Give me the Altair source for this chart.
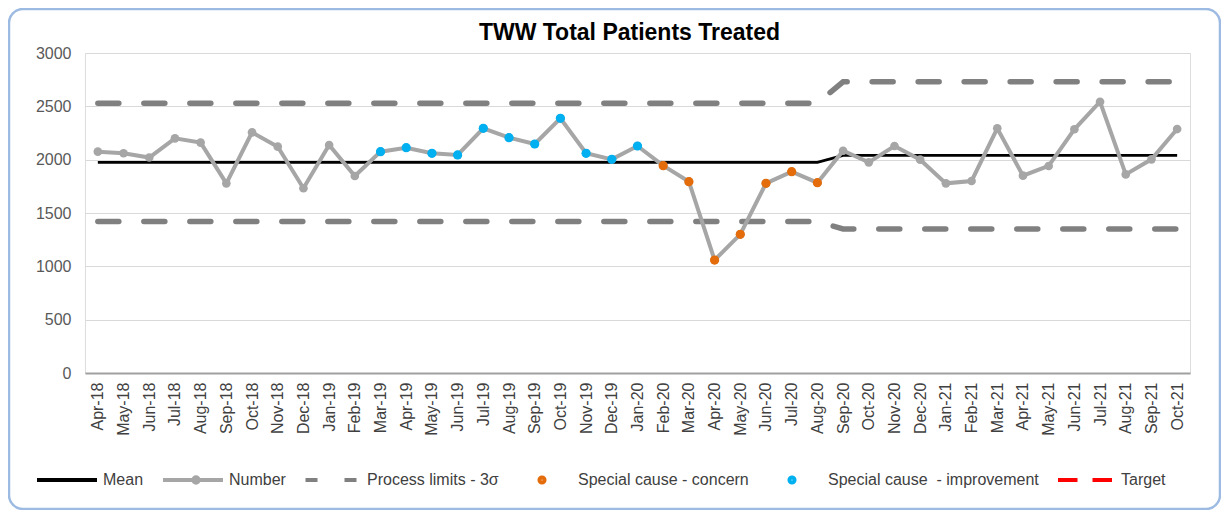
import altair as alt
import pandas as pd

months = ["Apr-18", "May-18", "Jun-18", "Jul-18", "Aug-18", "Sep-18", "Oct-18", "Nov-18", "Dec-18",
          "Jan-19", "Feb-19", "Mar-19", "Apr-19", "May-19", "Jun-19", "Jul-19", "Aug-19", "Sep-19",
          "Oct-19", "Nov-19", "Dec-19", "Jan-20", "Feb-20", "Mar-20", "Apr-20", "May-20", "Jun-20",
          "Jul-20", "Aug-20", "Sep-20", "Oct-20", "Nov-20", "Dec-20", "Jan-21", "Feb-21", "Mar-21",
          "Apr-21", "May-21", "Jun-21", "Jul-21", "Aug-21", "Sep-21", "Oct-21"]

number = [2075, 2060, 2020, 2200, 2160, 1778, 2256, 2122, 1732,
          2137, 1847, 2075, 2112, 2060, 2044, 2294, 2206, 2147,
          2388, 2060, 2003, 2128, 1944, 1794, 1059, 1300, 1778,
          1887, 1784, 2084, 1975, 2128, 2000, 1778, 1800, 2294,
          1850, 1941, 2285, 2543, 1862, 2003, 2287]

mean = [1975, 1975, 1975, 1975, 1975, 1975, 1975, 1975, 1975,
        1975, 1975, 1975, 1975, 1975, 1975, 1975, 1975, 1975,
        1975, 1975, 1975, 1975, 1975, 1975, 1975, 1975, 1975,
        1975, 1975, 2040, 2040, 2040, 2040, 2040, 2040, 2040,
        2040, 2040, 2040, 2040, 2040, 2040, 2040]

upper = [2530, 2530, 2530, 2530, 2530, 2530, 2530, 2530, 2530,
         2530, 2530, 2530, 2530, 2530, 2530, 2530, 2530, 2530,
         2530, 2530, 2530, 2530, 2530, 2530, 2530, 2530, 2530,
         2530, 2530, 2730, 2730, 2730, 2730, 2730, 2730, 2730,
         2730, 2730, 2730, 2730, 2730, 2730, 2730]

lower = [1420, 1420, 1420, 1420, 1420, 1420, 1420, 1420, 1420,
         1420, 1420, 1420, 1420, 1420, 1420, 1420, 1420, 1420,
         1420, 1420, 1420, 1420, 1420, 1420, 1420, 1420, 1420,
         1420, 1420, 1350, 1350, 1350, 1350, 1350, 1350, 1350,
         1350, 1350, 1350, 1350, 1350, 1350, 1350]

status = ["normal", "normal", "normal", "normal", "normal", "normal", "normal", "normal", "normal",
          "normal", "normal", "improvement", "improvement", "improvement", "improvement",
          "improvement", "improvement", "improvement", "improvement", "improvement", "improvement",
          "improvement", "concern", "concern", "concern", "concern", "concern", "concern", "concern",
          "normal", "normal", "normal", "normal", "normal", "normal", "normal",
          "normal", "normal", "normal", "normal", "normal", "normal", "normal"]

legend_labels = ["Mean", "Number", "Process limits - 3\u03c3", "Special cause - concern",
                 "Special cause\u00a0 - improvement", "Target"]
legend_colors = ["#000000", "#A6A6A6", "#808080", "#E46C0A", "#00B0F0", "#FF0000"]


def circle_path(r, cx=0.0):
    return (f"M{cx + r},0A{r},{r},0,1,1,{cx - r},0A{r},{r},0,1,1,{cx + r},0")


# equal vertical extent for every legend symbol so the labels line up
EXT = "M0,-0.2M0,0.2"
dot = circle_path(0.085) + circle_path(0.04)
legend_shapes = [EXT + "M-1,0H1",
                 EXT + "M-1,0H1" + circle_path(0.09, 0.1) + circle_path(0.04, 0.1),
                 EXT + "M-0.85,0H-0.45M0.45,0H0.85",
                 EXT + dot,
                 EXT + dot,
                 EXT + "M-0.9,0H-0.25M0.25,0H0.9"]

FONT = "Liberation Sans"

df = pd.DataFrame({"month": months, "number": number, "mean": mean,
                   "upper": upper, "lower": lower, "status": status})
leg_df = pd.DataFrame({"series": legend_labels, "month": [months[0]] * len(legend_labels),
                       "y": [None] * len(legend_labels)})

x_enc = alt.X("month:N", sort=months, title=None,
              axis=alt.Axis(labelAngle=270, labelFontSize=16, labelFont=FONT, labelColor="#404040",
                            ticks=False, tickSize=0, labelPadding=9, domainColor="#A0A0A0",
                            domainWidth=2, grid=False))
y_scale = alt.Scale(domain=[0, 3000], nice=False)
y_axis = alt.Axis(values=[0, 500, 1000, 1500, 2000, 2500, 3000], format="d", labelFontSize=16,
                  labelFont=FONT, labelColor="#595959", labelPadding=14, ticks=False, domain=False,
                  gridColor="#D9D9D9", gridWidth=1.2, title=None)

base = alt.Chart(df).encode(x=x_enc)

limit_style = dict(color="#808080", strokeWidth=5.5, strokeDash=[21, 25], strokeCap="round")
upper_line = base.mark_line(**limit_style).encode(y=alt.Y("upper:Q", scale=y_scale, axis=y_axis))
lower_line = base.mark_line(**limit_style).encode(y=alt.Y("lower:Q", scale=y_scale, axis=y_axis))
mean_line = base.mark_line(color="#000000", strokeWidth=2.8).encode(
    y=alt.Y("mean:Q", scale=y_scale, axis=y_axis))
num_line = base.mark_line(color="#A6A6A6", strokeWidth=4).encode(
    y=alt.Y("number:Q", scale=y_scale, axis=y_axis))
num_pts = base.mark_circle(color="#A6A6A6", size=75, opacity=1).encode(
    y=alt.Y("number:Q", scale=y_scale, axis=y_axis))
conc_pts = base.transform_filter(alt.datum.status == "concern").mark_circle(
    color="#E46C0A", size=85, opacity=1).encode(y=alt.Y("number:Q", scale=y_scale, axis=y_axis))
imp_pts = base.transform_filter(alt.datum.status == "improvement").mark_circle(
    color="#00B0F0", size=85, opacity=1).encode(y=alt.Y("number:Q", scale=y_scale, axis=y_axis))

leg = alt.Legend(orient="none", legendX=-50, legendY=395, direction="horizontal", title=None,
                 symbolSize=3600, symbolStrokeWidth=4, symbolOpacity=1, labelFontSize=16,
                 labelFont=FONT, labelColor="#404040", labelOffset=4, columnPadding=11,
                 labelLimit=400)
legend_layer = alt.Chart(leg_df).mark_point(filled=False, strokeWidth=4, opacity=1).encode(
    x=alt.X("month:N", sort=months),
    y=alt.Y("y:Q", scale=y_scale, axis=y_axis),
    color=alt.Color("series:N", scale=alt.Scale(domain=legend_labels, range=legend_colors), legend=leg),
    shape=alt.Shape("series:N", scale=alt.Scale(domain=legend_labels, range=legend_shapes), legend=leg),
)

frame = alt.Chart(alt.Data(values=[{"f": 1}])).mark_rect(
    cornerRadius=14, fillOpacity=0, stroke="#9DBBE2", strokeWidth=2.5).encode(
    x=alt.value(-76), x2=alt.value(1135), y=alt.value(-44), y2=alt.value(456))

chart = alt.layer(frame, upper_line, lower_line, mean_line, num_line, num_pts, conc_pts, imp_pts,
                  legend_layer).properties(
    width=1105, height=320,
    autosize=alt.AutoSizeParams(type="none"),
    padding={"left": 77, "top": 45, "right": 31, "bottom": 137},
    title=alt.TitleParams("TWW Total Patients Treated", fontSize=23, fontWeight="bold", font=FONT,
                          color="#000000", anchor="middle", frame="group", dx=-8, offset=0, dy=37),
).configure_view(stroke=None).configure(background="white")

chart.save("out.html", embed_options={"renderer": "svg", "actions": False})
